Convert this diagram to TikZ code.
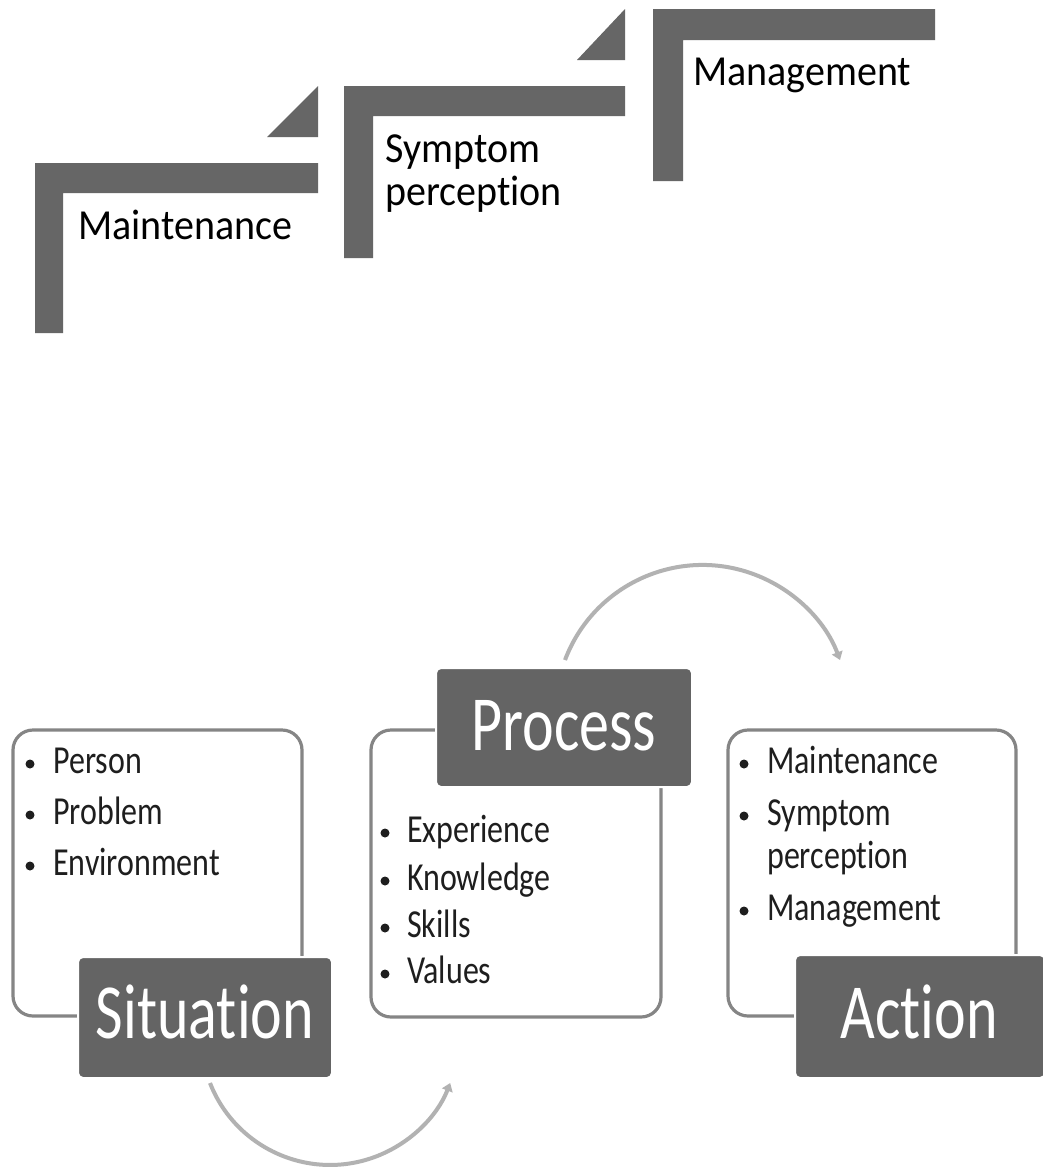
\documentclass[tikz,border=0pt]{standalone}
\usepackage{fontspec}
\setmainfont{Carlito}[Ligatures=NoCommon]
\usepackage{graphicx}
\usetikzlibrary{arrows.meta}
\definecolor{stairgray}{HTML}{666666}
\definecolor{taggray}{HTML}{646464}
\definecolor{cardline}{HTML}{858585}
\definecolor{arcgray}{HTML}{B2B2B2}
\definecolor{txtcol}{HTML}{1E1E1E}
\newcommand{\vst}[2]{\scalebox{1}[#1]{#2}}
\begin{document}
\begin{tikzpicture}[x=1pt,y=1pt,
  stair/.style={fill=stairgray, draw=none},
  card/.style={draw=cardline, line width=3.2pt, rounded corners=20pt, fill=white, outer sep=0pt, inner sep=0pt, anchor=north west},
  tag/.style={fill=taggray, draw=white, line width=2pt, rounded corners=5pt, outer sep=0pt, inner sep=0pt, anchor=north west},
  taglabel/.style={anchor=base, inner sep=0pt, text=white, font=\fontsize{60}{72}\selectfont},
  steptext/.style={anchor=base west, inner sep=0pt, text=black, font=\fontsize{40}{48}\selectfont},
  itemtext/.style={anchor=base west, inner sep=0pt, text=txtcol, font=\fontsize{32}{38}\selectfont},
  bul/.style={fill=txtcol},
  cyc/.style={draw=arcgray, line width=4pt, -{Triangle[length=8pt,width=11pt]}}
]
\useasboundingbox (0,0) rectangle (1042,-1167);
\fill[white] (0,0) rectangle (1042,-1167);

% ---------- staircase ----------
\fill[stair] (35,-163) -- (318,-163) -- (318,-193) -- (63,-193) -- (63,-333) -- (35,-333) -- cycle;
\fill[stair] (267,-137) -- (318,-137) -- (318,-86) -- cycle;
\fill[stair] (344,-86) -- (625,-86) -- (625,-116) -- (373,-116) -- (373,-258) -- (344,-258) -- cycle;
\fill[stair] (577,-60) -- (625,-60) -- (625,-9) -- cycle;
\fill[stair] (653,-9) -- (935,-9) -- (935,-40) -- (683,-40) -- (683,-181) -- (653,-181) -- cycle;

\node[steptext] (stepmaint) at (78,-239) {\vst{1.07}{Maintenance}};
\node[steptext] (stepsym) at (385,-162) {\vst{1.07}{Symptom}};
\node[steptext] (stepperc) at (385,-205) {\vst{1.07}{perception}};
\node[steptext] (stepmgmt) at (693,-85) {\vst{1.07}{Management}};

% ---------- cards ----------
\node[card, minimum width=289pt, minimum height=286pt] (sitcard) at (13,-730) {};
\node[card, minimum width=290pt, minimum height=287pt] (procard) at (371,-730) {};
\node[card, minimum width=288pt, minimum height=286pt] (actcard) at (728,-730) {};

% Situation items
\fill[bul] (30,-764) circle (4.5);
\node[itemtext] (sit1) at (53,-773) {\vst{1.24}{Person}};
\fill[bul] (30,-815) circle (4.5);
\node[itemtext] (sit2) at (53,-824) {\vst{1.24}{Problem}};
\fill[bul] (30,-866) circle (4.5);
\node[itemtext] (sit3) at (53,-875) {\vst{1.24}{Environment}};

% Process items
\fill[bul] (385,-833) circle (4.5);
\node[itemtext] (pro1) at (407,-842) {\vst{1.24}{Experience}};
\fill[bul] (385,-881) circle (4.5);
\node[itemtext] (pro2) at (407,-890) {\vst{1.24}{Knowledge}};
\fill[bul] (385,-928) circle (4.5);
\node[itemtext] (pro3) at (407,-937) {\vst{1.24}{Skills}};
\fill[bul] (385,-974) circle (4.5);
\node[itemtext] (pro4) at (407,-983) {\vst{1.24}{Values}};

% Action items
\fill[bul] (744,-764) circle (4.5);
\node[itemtext] (act1) at (767,-773) {\vst{1.24}{Maintenance}};
\fill[bul] (744,-816) circle (4.5);
\node[itemtext] (act2) at (767,-825) {\vst{1.24}{Symptom}};
\node[itemtext] (act2b) at (767,-868) {\vst{1.24}{perception}};
\fill[bul] (744,-911) circle (4.5);
\node[itemtext] (act3) at (767,-920) {\vst{1.24}{Management}};

% ---------- tags ----------
\node[tag, minimum width=254pt, minimum height=121pt] (sittag) at (78,-957) {};
\node[tag, minimum width=256pt, minimum height=119pt] (protag) at (436,-668) {};
\node[tag, minimum width=250pt, minimum height=123pt] (acttag) at (795,-955) {};

\node[taglabel] (sitlabel) at (205,-1038) {\vst{1.3}{Situation}};
\node[taglabel] (prolabel) at (564,-750) {\vst{1.3}{Process}};
\node[taglabel] (actlabel) at (919,-1038) {\vst{1.3}{Action}};

% ---------- cycle arrows ----------
\coordinate (topstart) at (565,-660);
\coordinate (botstart) at (210,-1083);
\draw[cyc] (topstart) arc[start angle=159.3, end angle=20.7, radius=147];
\draw[cyc] (botstart) arc[start angle=201.4, end angle=338.6, radius=129];
\end{tikzpicture}
\end{document}
